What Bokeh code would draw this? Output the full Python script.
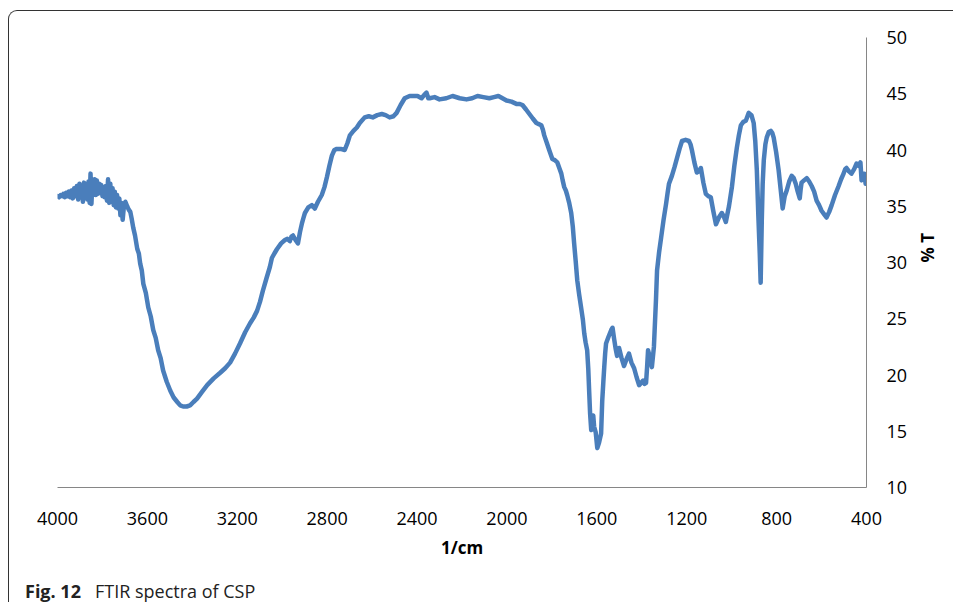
from bokeh.plotting import figure
from bokeh.models import Range1d, FixedTicker, Div
from bokeh.layouts import column
from bokeh.embed import file_html
from bokeh.resources import INLINE

wavenumber = [
    4000, 3993, 3986, 3980, 3974, 3968, 3962, 3956, 3950, 3944,
    3938, 3932, 3926, 3920, 3914, 3908, 3902, 3897, 3892, 3887,
    3882, 3877, 3872, 3867, 3862, 3857, 3853, 3849, 3845, 3840,
    3835, 3830, 3825, 3820, 3815, 3810, 3805, 3800, 3795, 3790,
    3785, 3780, 3775, 3770, 3765, 3760, 3755, 3750, 3745, 3740,
    3735, 3730, 3725, 3720, 3715, 3710, 3705, 3698, 3690, 3683,
    3676, 3670, 3663, 3655, 3645, 3638, 3632, 3625, 3618, 3607,
    3596, 3585, 3574, 3563, 3552, 3541, 3530, 3514, 3498, 3483,
    3467, 3454, 3441, 3425, 3410, 3395, 3379, 3357, 3334, 3305,
    3276, 3254, 3232, 3210, 3188, 3165, 3143, 3127, 3112, 3099,
    3086, 3070, 3055, 3046, 3035, 3023, 3005, 2988, 2977, 2966,
    2959, 2952, 2941, 2930, 2921, 2912, 2905, 2899, 2884, 2868,
    2855, 2841, 2824, 2812, 2801, 2790, 2779, 2768, 2757, 2740,
    2722, 2710, 2699, 2683, 2668, 2655, 2633, 2615, 2597, 2577,
    2557, 2540, 2522, 2505, 2491, 2473, 2455, 2433, 2415, 2398,
    2380, 2368, 2358, 2350, 2344, 2322, 2300, 2270, 2242, 2210,
    2180, 2155, 2131, 2105, 2078, 2058, 2038, 2020, 2002, 1980,
    1958, 1945, 1931, 1915, 1900, 1885, 1869, 1858, 1847, 1840,
    1834, 1822, 1812, 1805, 1798, 1787, 1776, 1767, 1758, 1752,
    1745, 1738, 1732, 1723, 1714, 1707, 1701, 1694, 1687, 1679,
    1670, 1662, 1656, 1650, 1643, 1638, 1634, 1630, 1625, 1621,
    1616, 1612, 1605, 1598, 1590, 1581, 1576, 1571, 1567, 1563,
    1559, 1548, 1536, 1530, 1523, 1516, 1510, 1505, 1501, 1490,
    1479, 1468, 1457, 1446, 1434, 1423, 1412, 1403, 1394, 1388,
    1381, 1376, 1372, 1363, 1355, 1346, 1337, 1332, 1323, 1314,
    1303, 1292, 1285, 1279, 1266, 1254, 1243, 1232, 1221, 1205,
    1190, 1183, 1177, 1166, 1155, 1146, 1137, 1126, 1115, 1104,
    1093, 1082, 1070, 1057, 1044, 1035, 1026, 1012, 999, 988,
    977, 968, 959, 948, 937, 924, 912, 902, 895, 888,
    881, 875, 871, 866, 862, 857, 850, 844, 835, 826,
    819, 813, 802, 791, 782, 773, 764, 755, 744, 733,
    724, 715, 706, 697, 693, 689, 678, 666, 655, 644,
    633, 622, 611, 600, 589, 578, 566, 555, 540, 524,
    513, 502, 495, 489, 478, 467, 455, 444, 435, 427,
    422, 416, 409, 404, 400,
]

transmittance = [
    35.9, 35.8, 36.0, 35.9, 36.1, 35.8, 36.2, 35.9, 36.3, 35.8,
    36.4, 35.7, 36.6, 35.9, 36.8, 35.6, 37.0, 35.9, 36.7, 35.4,
    37.1, 36.0, 36.9, 35.6, 37.2, 35.3, 37.9, 35.2, 37.0, 36.0,
    37.4, 36.0, 37.3, 36.1, 37.0, 36.2, 36.9, 35.9, 36.7, 35.8,
    36.8, 35.5, 37.4, 35.3, 37.0, 35.4, 36.6, 35.1, 36.3, 34.9,
    36.0, 34.8, 35.7, 34.2, 35.3, 33.8, 34.9, 35.4, 35.0, 34.7,
    34.5, 33.9, 33.1, 32.4, 31.2, 30.8, 29.9, 29.3, 28.1, 27.3,
    26.0, 25.2, 24.0, 23.3, 22.2, 21.5, 20.4, 19.4, 18.6, 18.0,
    17.6, 17.3, 17.2, 17.2, 17.3, 17.6, 17.9, 18.5, 19.1, 19.7,
    20.2, 20.6, 21.1, 21.9, 22.8, 23.8, 24.6, 25.1, 25.7, 26.5,
    27.5, 28.6, 29.6, 30.4, 30.8, 31.2, 31.7, 32.0, 32.1, 31.9,
    32.3, 32.4, 32.0, 31.7, 32.7, 33.5, 34.0, 34.4, 34.9, 35.1,
    34.8, 35.4, 36.0, 36.7, 37.6, 38.6, 39.5, 40.0, 40.1, 40.1,
    40.0, 40.6, 41.3, 41.7, 42.0, 42.4, 42.9, 43.0, 42.9, 43.1,
    43.2, 43.1, 42.9, 43.0, 43.3, 44.0, 44.6, 44.8, 44.8, 44.8,
    44.6, 44.9, 45.1, 44.6, 44.6, 44.7, 44.5, 44.6, 44.8, 44.6,
    44.5, 44.6, 44.8, 44.7, 44.6, 44.7, 44.8, 44.6, 44.4, 44.3,
    44.1, 44.1, 44.0, 43.6, 43.2, 42.8, 42.4, 42.3, 42.2, 41.8,
    41.3, 40.6, 40.0, 39.6, 39.2, 39.1, 38.9, 38.4, 37.9, 37.3,
    36.7, 36.4, 36.0, 35.3, 34.4, 33.2, 31.7, 30.1, 28.4, 27.2,
    26.0, 24.9, 23.7, 22.9, 22.2, 20.5, 18.5, 16.6, 15.1, 15.6,
    16.4, 15.4, 14.9, 13.5, 14.0, 14.8, 17.7, 19.4, 20.7, 21.9,
    22.8, 23.4, 24.0, 24.2, 23.2, 22.3, 21.7, 22.1, 22.4, 21.5,
    20.8, 21.4, 21.9, 21.1, 20.6, 19.8, 19.1, 19.3, 19.5, 19.2,
    19.3, 20.8, 22.2, 21.5, 20.7, 22.5, 26.6, 29.3, 30.9, 32.2,
    33.8, 35.2, 36.2, 37.0, 37.7, 38.5, 39.3, 40.1, 40.8, 40.9,
    40.8, 40.5, 40.0, 38.9, 38.0, 38.1, 38.4, 37.1, 36.1, 35.9,
    35.8, 34.6, 33.4, 34.0, 34.4, 34.1, 33.6, 35.0, 36.7, 38.6,
    40.2, 41.3, 42.2, 42.5, 42.6, 43.3, 43.1, 42.4, 40.8, 38.2,
    34.0, 30.8, 28.2, 33.7, 37.0, 39.1, 40.5, 41.1, 41.6, 41.7,
    41.5, 41.1, 39.8, 38.2, 36.5, 34.8, 35.9, 36.4, 37.2, 37.7,
    37.5, 37.0, 36.3, 35.7, 36.5, 37.1, 37.3, 37.5, 37.2, 36.8,
    36.3, 35.5, 35.1, 34.6, 34.3, 34.0, 34.5, 35.1, 36.0, 36.8,
    37.4, 37.9, 38.3, 38.4, 38.1, 37.9, 38.3, 38.8, 38.6, 38.9,
    37.3, 37.9, 37.9, 37.0, 37.3,
]

x_ticks = [4000, 3600, 3200, 2800, 2400, 2000, 1600, 1200, 800, 400]
y_ticks = [10, 15, 20, 25, 30, 35, 40, 45, 50]

# canvas origin sits at page (9, 11) because of margin + 1px border
W, H = 944, 562
FL, FT, FR, FB = 48, 26, 859, 476
p = figure(
    width=W, height=H,
    x_range=Range1d(4000, 400), y_range=Range1d(10, 50),
    y_axis_location="right",
    output_backend="svg", toolbar_location=None,
    min_border_left=FL, min_border_top=FT,
    min_border_right=W - FR, min_border_bottom=H - FB,
)
p.outline_line_color = None
p.xgrid.visible = False
p.ygrid.visible = False
p.background_fill_color = "white"
p.border_fill_color = None

p.line(wavenumber, transmittance, line_color="#4a7ebb", line_width=4.5,
       line_join="round", line_cap="round")

for ax in (p.xaxis[0], p.yaxis[0]):
    ax.axis_line_color = "#868686"
    ax.axis_line_width = 1
    ax.major_tick_line_color = None
    ax.minor_tick_line_color = None
    ax.major_tick_out = 0
    ax.major_tick_in = 0
    ax.minor_tick_out = 0
    ax.major_label_text_font = "Open Sans"
    ax.major_label_text_font_size = "18px"
    ax.major_label_text_color = "#000000"
    ax.axis_label_text_font = "Open Sans"
    ax.axis_label_text_font_size = "17px"
    ax.axis_label_text_font_style = "bold"
    ax.axis_label_text_color = "#000000"

p.xaxis[0].ticker = FixedTicker(ticks=x_ticks)
p.xaxis[0].major_label_standoff = 24
p.xaxis[0].axis_label = "1/cm"
p.xaxis[0].axis_label_standoff = 8

yax = p.yaxis[0]
yax.ticker = FixedTicker(ticks=y_ticks)
yax.major_label_standoff = 20
yax.axis_label = "% T"
yax.axis_label_standoff = 17
if "axis_label_orientation" in yax.properties():
    yax.axis_label_orientation = 1.5708

caption = Div(
    text='<span style="font-weight:bold">Fig. 12</span>'
         '<span style="margin-left:14px">FTIR spectra of CSP</span>',
    width=420, height=26,
    styles={
        "font-family": "'Open Sans'",
        "font-size": "18px",
        "color": "#222222",
        "margin-left": "16px",
        "line-height": "22px",
        "padding-top": "2px",
    },
)

layout = column(p, caption, spacing=0)
layout.styles = {
    "margin-left": "8px",
    "margin-top": "10px",
    "border-top": "1px solid #333333",
    "border-left": "1px solid #333333",
    "border-top-left-radius": "9px",
}

open("out.html", "w").write(file_html(layout, INLINE))
